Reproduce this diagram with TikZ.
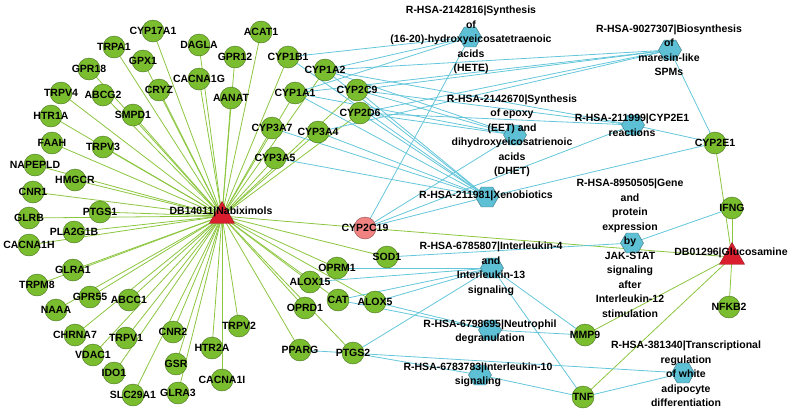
\documentclass[tikz,border=0pt]{standalone}
\usepackage{fontspec}
\setmainfont{Liberation Sans}
\usetikzlibrary{shapes.geometric,backgrounds}
\definecolor{ngreen}{RGB}{122,190,48}
\definecolor{egreen}{RGB}{140,198,63}
\definecolor{eblue}{RGB}{100,198,218}
\definecolor{hblue}{RGB}{94,192,212}
\definecolor{tred}{RGB}{218,30,45}
\definecolor{pinkn}{RGB}{240,130,130}
\begin{document}
\begin{tikzpicture}[x=1pt,y=-1pt,
  gene/.style={circle,fill=ngreen,draw=ngreen!60!black,line width=0.4pt,minimum size=22pt,inner sep=0pt},
  pway/.style={regular polygon,regular polygon sides=6,fill=hblue,draw=hblue!60!black,line width=0.4pt,minimum size=23pt,inner sep=0pt},
  drug/.style={regular polygon,regular polygon sides=3,fill=tred,draw=tred!70!black,line width=0.4pt,minimum size=29pt,inner sep=0pt},
  lbl/.style={font=\bfseries\fontsize{10.5}{14.5}\selectfont,align=center,inner sep=0pt,text=black},
  ge/.style={draw=egreen,line width=0.8pt},
  be/.style={draw=eblue,line width=0.8pt}]
\useasboundingbox (0,0) rectangle (793,416);
% gene nodes
\foreach \n/\x/\y in {CYP17A1/153/31, TRPA1/114/47, GPX1/143/61, DAGLA/199/45, GPR12/235/57, ACAT1/261/32, GPR18/89/69, CACNA1G/199/79, CRYZ/159/90, AANAT/231/98, TRPV4/61/93, ABCG2/103/95, SMPD1/133/115, HTR1A/51/116, FAAH/52/143, TRPV3/103/147, NAPEPLD/35/165, HMGCR/75/180, CNR1/33/192, PTGS1/100/212, GLRB/29/218, PLA2G1B/74/232, CACNA1H/29/245, GLRA1/73/270, TRPM8/37/285, GPR55/90/297, NAAA/56/310, ABCC1/129/300, CHRNA7/75/335, TRPV1/126/338, VDAC1/93/355, CNR2/173/332, TRPV2/239/326, HTR2A/212/348, GSR/176/364, IDO1/114/373, CACNA1I/222/380, SLC29A1/133/395, GLRA3/178/393, CYP1B1/288/57, CYP1A2/325/70, CYP1A1/295/93, CYP2C9/357/90, CYP2D6/360/113, CYP3A7/272/128, CYP3A4/318/132, CYP3A5/275/158, SOD1/387/257, OPRM1/337/268, ALOX15/310/282, CAT/338/300, ALOX5/375/302, OPRD1/305/308, PPARG/300/350, PTGS2/353/353, MMP9/585/335, TNF/583/397, CYP2E1/715/143, IFNG/732/208, NFKB2/729/307}
  {\node[gene] (\n) at (\x,\y) {};}
\node[gene,fill=pinkn,draw=pinkn!60!black] (CYP2C19) at (365,228) {};
\node[drug] (NAB) at (222,216) {};
\node[drug] (GLU) at (732,257) {};
% pathways
\node[pway] (HETE) at (470,37) {};
\node[pway] (MAR) at (670,50) {};
\node[pway] (EET) at (515,135) {};
\node[pway] (R2E1) at (633,125) {};
\node[pway] (XENO) at (487,197) {};
\node[pway] (JAK) at (632,243) {};
\node[pway] (IL4) at (492,268) {};
\node[pway] (NEUT) at (490,330) {};
\node[pway] (IL10) at (480,375) {};
\node[pway] (ADIPO) at (683,373) {};
% edges
\begin{scope}[on background layer]
\foreach \n in {CYP17A1, TRPA1, GPX1, DAGLA, GPR12, ACAT1, GPR18, CACNA1G, CRYZ, AANAT, TRPV4, ABCG2, SMPD1, HTR1A, FAAH, TRPV3, NAPEPLD, HMGCR, CNR1, PTGS1, GLRB, PLA2G1B, CACNA1H, GLRA1, TRPM8, GPR55, NAAA, ABCC1, CHRNA7, TRPV1, VDAC1, CNR2, TRPV2, HTR2A, GSR, IDO1, CACNA1I, SLC29A1, GLRA3, CYP1B1, CYP1A2, CYP1A1, CYP2C9, CYP2D6, CYP3A7, CYP3A4, CYP3A5, SOD1, OPRM1, ALOX15, CAT, ALOX5, OPRD1, PPARG, PTGS2, CYP2C19}
  {\draw[ge] (NAB.center) -- (\n.center);}
\foreach \n in {IFNG, CYP2E1, NFKB2, MMP9, TNF, CYP2C19}
  {\draw[ge] (GLU.center) -- (\n.center);}
\foreach \a/\b in {CYP1B1/HETE, CYP1A2/HETE, CYP1A1/HETE, CYP2C19/HETE,
  CYP1A2/MAR, CYP1A1/MAR, CYP2C9/MAR, CYP2D6/MAR, CYP3A4/MAR, CYP2E1/MAR,
  CYP1A2/EET, CYP1A1/EET, CYP2C9/EET, CYP2D6/EET, CYP2C19/EET,
  CYP2C9/R2E1, CYP1A2/R2E1, CYP2D6/R2E1, CYP2C19/R2E1, CYP2E1/R2E1,
  CYP1B1/XENO, CYP1A1/XENO, CYP1A2/XENO, CYP2C9/XENO, CYP2D6/XENO, CYP3A4/XENO, CYP3A5/XENO, CYP3A7/XENO, CYP2C19/XENO, CYP2E1/XENO,
  IFNG/JAK, SOD1/JAK,
  OPRM1/IL4, ALOX15/IL4, CAT/IL4, ALOX5/IL4, PTGS2/IL4, MMP9/IL4, TNF/IL4,
  CAT/NEUT, ALOX5/NEUT, MMP9/NEUT,
  PTGS2/IL10, TNF/IL10, PPARG/ADIPO, TNF/ADIPO}
  {\draw[be] (\a.center) -- (\b.center);}
\end{scope}
% labels
\foreach \n in {CYP17A1, TRPA1, GPX1, DAGLA, GPR12, ACAT1, GPR18, CACNA1G, CRYZ, AANAT, TRPV4, ABCG2, SMPD1, HTR1A, FAAH, TRPV3, NAPEPLD, HMGCR, CNR1, PTGS1, GLRB, PLA2G1B, CACNA1H, GLRA1, TRPM8, GPR55, NAAA, ABCC1, CHRNA7, TRPV1, VDAC1, CNR2, TRPV2, HTR2A, GSR, IDO1, CACNA1I, SLC29A1, GLRA3, CYP1B1, CYP1A2, CYP1A1, CYP2C9, CYP2D6, CYP3A7, CYP3A4, CYP3A5, SOD1, OPRM1, ALOX15, CAT, ALOX5, OPRD1, PPARG, PTGS2, MMP9, TNF, CYP2E1, IFNG, NFKB2, CYP2C19}
  {\node[lbl] at (\n) {\n};}
\node[lbl] (lNAB) at (221,212) {DB14011|Nabiximols};
\node[lbl] (lGLU) at (731,253) {DB01296|Glucosamine};
\node[lbl] (lHETE) at (471,40) {R-HSA-2142816|Synthesis\\of\\(16-20)-hydroxyeicosatetraenoic\\acids\\(HETE)};
\node[lbl] (lMAR) at (669,50) {R-HSA-9027307|Biosynthesis\\of\\maresin-like\\SPMs};
\node[lbl] (lEET) at (512,136) {R-HSA-2142670|Synthesis\\of epoxy\\(EET) and\\dihydroxyeicosatrienoic\\acids\\(DHET)};
\node[lbl] (lR2E1) at (632,125) {R-HSA-211999|CYP2E1\\reactions};
\node[lbl] (lXENO) at (486,196) {R-HSA-211981|Xenobiotics};
\node[lbl] (lJAK) at (630,248) {R-HSA-8950505|Gene\\and\\protein\\expression\\by\\JAK-STAT\\signaling\\after\\Interleukin-12\\stimulation};
\node[lbl] (lIL4) at (491,269) {R-HSA-6785807|Interleukin-4\\and\\Interleukin-13\\signaling};
\node[lbl] (lNEUT) at (490,332) {R-HSA-6798695|Neutrophil\\degranulation};
\node[lbl] (lIL10) at (478,375) {R-HSA-6783783|Interleukin-10\\signaling};
\node[lbl] (lADIPO) at (686,374) {R-HSA-381340|Transcriptional\\regulation\\of white\\adipocyte\\differentiation};
\end{tikzpicture}
\end{document}
